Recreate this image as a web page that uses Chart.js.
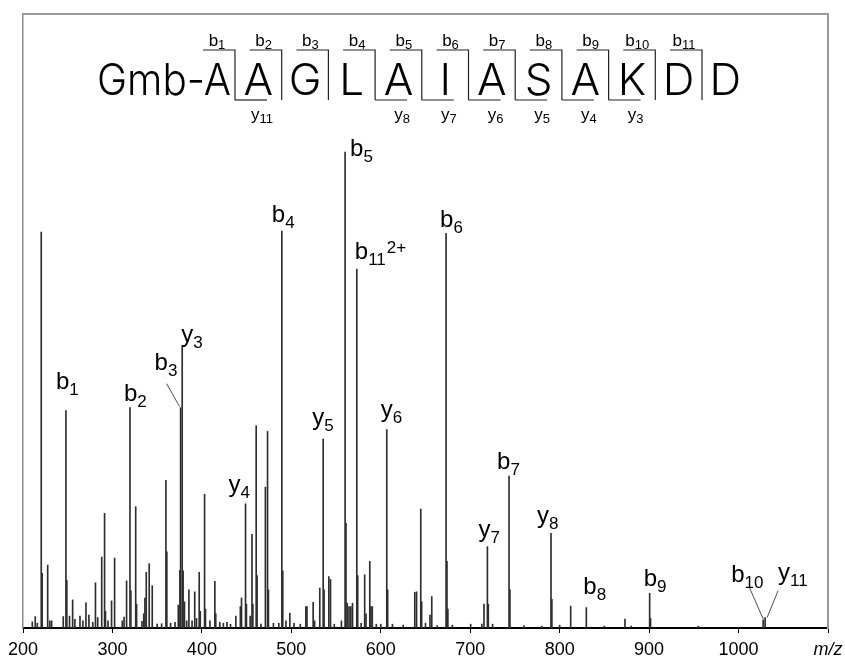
<!DOCTYPE html>
<html>
<head>
<meta charset="utf-8">
<script src="https://cdn.jsdelivr.net/npm/chart.js@4.4.1/dist/chart.umd.min.js"></script>
<style>
  html, body { margin: 0; padding: 0; background: #fff; }
</style>
</head>
<body>
<canvas id="spectrum" width="845" height="659"></canvas>
<script>
// peak list (m/z, relative intensity, base peak = 100)
const peakMz = [
  210.4, 213.7, 216, 220.4, 221.4, 227.6, 230, 232, 245, 248, 249, 252, 255.5, 258,
  263.7, 267, 270.4, 273.7, 278, 281, 283.5, 288, 291.2, 292.2, 295, 299, 302.4, 311,
  313, 315.8, 319.6, 320.6, 326, 327, 333, 335, 336.3, 337.8, 341.1, 344.5, 350, 355,
  359.8, 360.8, 365, 370, 373.6, 375.4, 376.2, 378, 379, 380.5, 383, 385.5, 389, 392,
  394, 397, 398.2, 403, 404, 409, 414.5, 415.5, 420, 424, 428, 432, 438, 443, 444.3,
  448.8, 449.8, 454, 456, 457, 460.7, 461.7, 466, 471, 473.4, 474.4, 480, 486, 489.4,
  490.4, 494, 498.3, 503, 510, 516.2, 517.5, 524.4, 526, 531.8, 535.6, 536.6, 541.9,
  543.8, 548, 556, 560.1, 561.1, 562.5, 564.5, 566.5, 568.4, 573.2, 574.2, 578, 582,
  583.5, 587.7, 589, 590.5, 595, 600, 606.7, 607.7, 613, 625, 638, 640, 644.7, 645.7,
  650, 655, 657, 663, 673, 674, 675, 680, 700.5, 713, 715.4, 719.2, 720.2, 725, 743.4,
  744.4, 760, 780, 790.3, 791.3, 800, 812.3, 829.8, 850, 873, 880, 900.6, 901.6, 955,
  1027.5, 1029.7
];
const peakIntensity = [
  1.3, 2.4, 1.0, 83.2, 11.5, 13.2, 1.5, 1.5, 2.4, 45.7, 10.0, 2.5, 5.9, 1.8,
  2.5, 1.5, 5.3, 2.7, 1.2, 9.5, 2.2, 14.9, 24.1, 3.5, 1.5, 5.7, 14.7, 1.5,
  2.3, 9.9, 46.3, 7.8, 25.5, 5.0, 1.4, 3.0, 6.3, 11.7, 13.5, 8.9, 0.8, 0.9,
  31.0, 16.0, 1.0, 1.2, 4.8, 12.1, 46.3, 59.4, 12.0, 5.5, 1.5, 8.0, 1.5, 7.6,
  2.0, 11.7, 3.5, 28.1, 4.0, 1.5, 9.8, 3.0, 1.2, 1.0, 1.2, 0.8, 2.5, 4.5, 6.3,
  26.1, 5.0, 2.5, 19.7, 5.0, 42.5, 11.0, 0.8, 29.6, 41.3, 8.0, 1.0, 1.0, 83.4,
  12.0, 1.5, 3.1, 1.0, 0.8, 4.5, 4.5, 5.4, 1.5, 8.4, 39.7, 8.0, 10.8,
  10.2, 0.8, 1.5, 100, 22.0, 5.2, 4.5, 4.5, 5.2, 75.4, 11.0, 1.0, 11.2,
  3.0, 14.0, 4.5, 4.5, 0.8, 0.8, 41.7, 8.0, 0.8, 0.6, 7.5, 7.6, 25.0, 5.5,
  1.0, 2.7, 6.6, 0.5, 82.9, 14.0, 4.0, 0.6, 0.8, 0.8, 5.0, 17.1, 5.0, 0.8, 31.9,
  8.0, 0.5, 0.4, 19.9, 6.0, 0.6, 4.6, 4.3, 0.4, 1.9, 0.4, 7.3, 2.0, 0.4,
  1.7, 2.2
];

// assigned fragment ions and the peak each one labels
const ionNames = ['b1', 'b2', 'b3', 'y3', 'y4', 'b4', 'y5', 'b5', 'b11 2+', 'y6',
  'b6', 'y7', 'b7', 'y8', 'b8', 'b9', 'b10', 'y11'];
const ionMz = [248, 319.6, 376.2, 378, 448.8, 489.4, 535.6, 560.1, 573.2, 606.7,
  673, 719.2, 743.4, 790.3, 829.8, 900.6, 1027.5, 1029.7];

// peptide sequence drawn above the spectrum
const sequenceStart = 'Gmb-A';
const residues = ['A', 'G', 'L', 'A', 'I', 'A', 'S', 'A', 'K', 'D', 'D'];
const bCuts = [1, 2, 3, 4, 5, 6, 7, 8, 9, 10, 11];
const yCuts = [1, 4, 5, 6, 7, 8, 9];

const xTickLabels = ['200', '300', '400', '500', '600', '700', '800', '900', '1000', 'm/z'];

const FONT = "'Liberation Sans', Arial, Helvetica, sans-serif";
const SEQ_FONT = "300 44px Inter, 'Open Sans', 'Liberation Sans', sans-serif";

// label placement: text left / baseline relative to the peak top (px)
const labelOffset = {
  'b1': [-10, -21], 'b2': [-6, -7], 'b3': [-26, -38], 'y3': [-1, -3],
  'y4': [-17, -12], 'b4': [-10, -9], 'y5': [-11, -14], 'b5': [5, 4],
  'b11 2+': [-2, -10], 'y6': [-6, -13], 'b6': [-6, -6], 'y7': [-9, -10],
  'b7': [-12, -7], 'y8': [-14, -10], 'b8': [-3, -14], 'b9': [-6, -7],
  'b10': [-32, -38], 'y11': [13, -38]
};
// leader lines: [fromDx, fromDy, toDx, toDy] relative to the peak top
const leaders = {
  'b3': [-14, -24, -1, -1],
  'b10': [-14, -33, 0, -1],
  'y11': [13, -27, 2, 0]
};

function drawIon(ctx, x, y, name, big, small, drop) {
  const [, letter, num, charge] = name.match(/^([by])(\d+)(?: (\S+))?$/);
  ctx.font = `${big}px ${FONT}`;
  ctx.fillText(letter, x, y);
  const cx = x + ctx.measureText(letter).width;
  ctx.font = `${small}px ${FONT}`;
  ctx.fillText(num, cx, y + drop);
  if (charge) {
    ctx.fillText(charge, cx + ctx.measureText(num).width + 1, y - drop);
  }
}

function ionWidth(ctx, name, big, small) {
  const [, letter, num] = name.match(/^([by])(\d+)/);
  ctx.font = `${big}px ${FONT}`;
  const w = ctx.measureText(letter).width;
  ctx.font = `${small}px ${FONT}`;
  return w + ctx.measureText(num).width;
}

const annotations = {
  id: 'annotations',
  afterDraw(chart) {
    const ctx = chart.ctx;
    const xs = chart.scales.x;
    const ys = chart.scales.y;
    ctx.save();
    ctx.fillStyle = '#000';
    ctx.strokeStyle = '#222';
    ctx.textBaseline = 'alphabetic';
    ctx.textAlign = 'left';

    // peak labels
    ionNames.forEach((name, i) => {
      const idx = peakMz.indexOf(ionMz[i]);
      const px = xs.getPixelForValue(ionMz[i]);
      const py = ys.getPixelForValue(peakIntensity[idx]);
      const [dx, dy] = labelOffset[name];
      drawIon(ctx, px + dx, py + dy, name, 24, 17, 6);
      const l = leaders[name];
      if (l) {
        ctx.lineWidth = 0.8;
        ctx.beginPath();
        ctx.moveTo(px + l[0], py + l[1]);
        ctx.lineTo(px + l[2], py + l[3]);
        ctx.stroke();
      }
    });

    // sequence header
    const firstCut = 235, step = 46.7, top = 50, bottom = 100, arm = 32, base = 95;
    ctx.font = SEQ_FONT;
    ctx.textAlign = 'right';
    ctx.fillText(sequenceStart, firstCut - 4, base, 134);
    ctx.textAlign = 'center';
    residues.forEach((r, i) => {
      ctx.fillText(r, firstCut + (i + 0.5) * step, base);
    });
    ctx.lineWidth = 1.2;
    ctx.strokeStyle = '#222';
    bCuts.forEach((k) => {
      const x = firstCut + (k - 1) * step;
      ctx.beginPath();
      ctx.moveTo(x - arm, top);
      ctx.lineTo(x, top);
      ctx.lineTo(x, bottom);
      ctx.stroke();
    });
    ctx.textAlign = 'left';
    bCuts.forEach((k) => {
      const x = firstCut + (k - 1) * step;
      const name = 'b' + k;
      const w = ionWidth(ctx, name, 17, 13);
      drawIon(ctx, x - 18 - w / 2, top - 4, name, 17, 13, 3);
    });
    yCuts.forEach((k) => {
      const x = firstCut + (k - 1) * step;
      ctx.beginPath();
      ctx.moveTo(x, bottom);
      ctx.lineTo(x + arm, bottom);
      ctx.stroke();
      const name = 'y' + (residues.length + 1 - k);
      const w = ionWidth(ctx, name, 17, 13);
      drawIon(ctx, x + 27 - w / 2, bottom + 20, name, 17, 13, 3);
    });
    ctx.restore();
  }
};

const hiddenAxis = (position, color) => ({
  type: 'linear',
  position,
  display: true,
  ticks: { display: false },
  grid: { display: false, drawTicks: false },
  border: { color, width: 2 }
});

new Chart(document.getElementById('spectrum'), {
  type: 'bar',
  data: {
    datasets: [{
      data: peakMz.map((x, i) => ({ x, y: peakIntensity[i] })),
      backgroundColor: '#2e2e2e',
      borderWidth: 0,
      barThickness: 1
    }]
  },
  options: {
    responsive: false,
    animation: false,
    devicePixelRatio: 1,
    layout: { padding: { left: 23, right: 17, top: 14, bottom: 0 } },
    plugins: { legend: { display: false }, tooltip: { enabled: false } },
    scales: {
      x: {
        type: 'linear',
        min: 200,
        max: 1100,
        offset: false,
        afterFit: (s) => {
          s.height = 31;
          s.paddingLeft = 0;
          s.paddingRight = 0;
        },
        ticks: {
          stepSize: 100,
          autoSkip: false,
          maxRotation: 0,
          padding: 6,
          color: '#000',
          font: (c) => ({
            family: FONT,
            size: 18,
            style: c.tick && c.tick.value === 1100 ? 'italic' : 'normal'
          }),
          callback: (v) => xTickLabels[Math.round((v - 200) / 100)]
        },
        grid: { offset: false, drawOnChartArea: false, drawTicks: true, tickLength: 5, color: '#000' },
        border: { color: '#000', width: 2 }
      },
      y: {
        type: 'linear',
        min: 0,
        max: 129,
        ticks: { display: false },
        grid: { display: false, drawTicks: false },
        border: { color: '#8c8c8c', width: 1.5 }
      },
      x2: hiddenAxis('top', '#999'),
      y2: hiddenAxis('right', '#999')
    }
  },
  plugins: [annotations]
});
</script>
</body>
</html>
